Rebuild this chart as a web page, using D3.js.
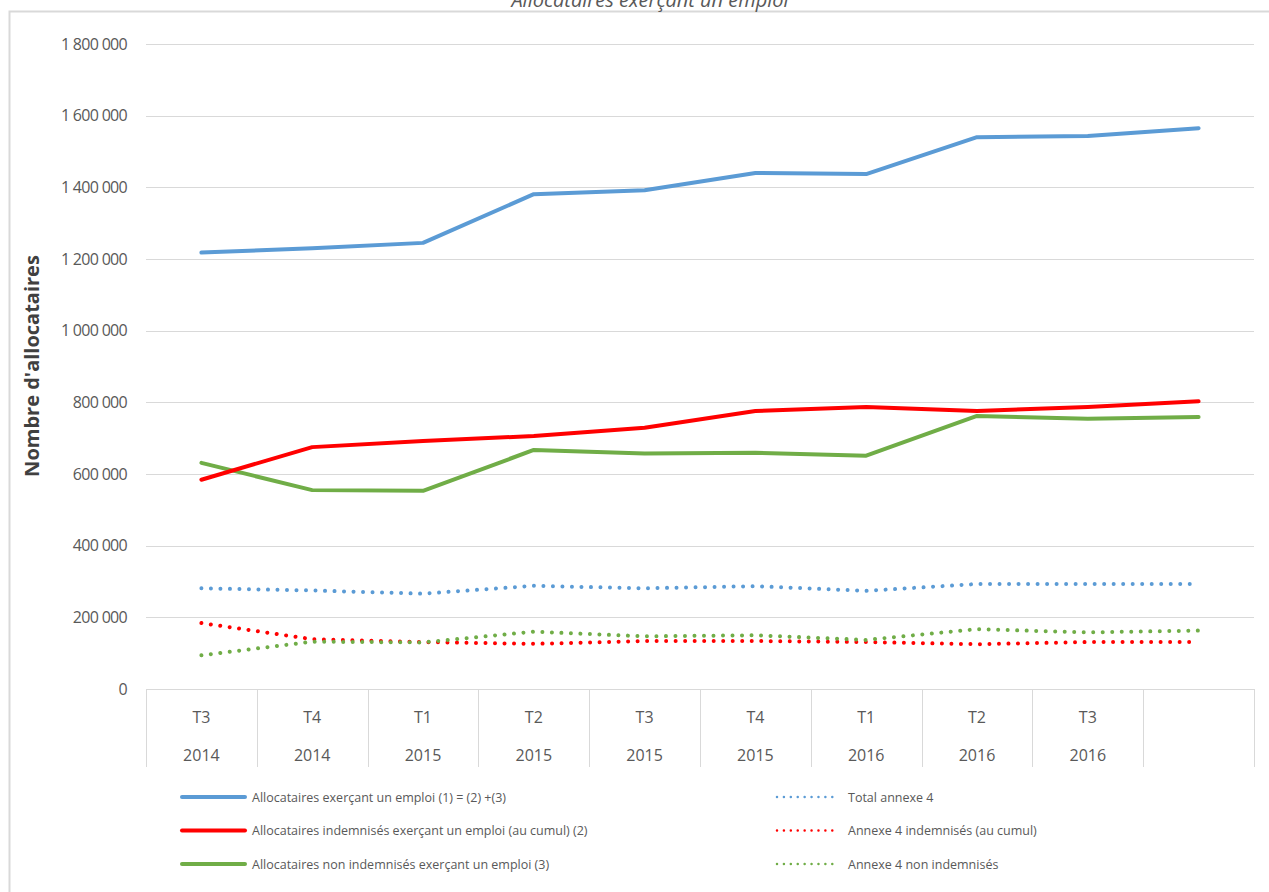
<!DOCTYPE html>
<html><head><meta charset="utf-8">
<script src="https://cdn.jsdelivr.net/npm/d3@7"></script>
<style>
html,body{margin:0;padding:0;background:#fff;}
svg{display:block;font-family:"Open Sans","Noto Sans",sans-serif;}
</style></head>
<body><svg id="c" width="1269" height="892"></svg>
<script>
const quarters = ["T3","T4","T1","T2","T3","T4","T1","T2","T3",""];
const years = ["2014","2014","2015","2015","2015","2015","2016","2016","2016",""];
const totalEmploi = [1218000,1230000,1245000,1381000,1392000,1440000,1437000,1540000,1543000,1565000];
const indemnEmploi = [584000,675000,692000,706000,729000,776000,787000,776000,787000,803000];
const nonIndemnEmploi = [631000,555000,553000,667000,657000,659000,651000,762000,754000,759000];
const totalAnnexe4 = [281000,275000,266000,288000,281000,287000,274000,293000,293000,293000];
const annexe4Indemn = [184000,139000,131000,126000,134000,134000,131000,125000,131000,131000];
const annexe4NonIndemn = [94000,132000,130000,160000,147000,150000,137000,167000,158000,163000];
const yTicks = [0,200000,400000,600000,800000,1000000,1200000,1400000,1600000,1800000];
const legendLabels = [
 "Allocataires exerçant un emploi (1) = (2) +(3)",
 "Allocataires indemnisés exerçant un emploi (au cumul) (2)",
 "Allocataires non indemnisés exerçant un emploi (3)",
 "Total annexe 4",
 "Annexe 4 indemnisés (au cumul)",
 "Annexe 4 non indemnisés"
];

const series = [
 {name:legendLabels[0], values:totalEmploi, color:"#5B9BD5", dotted:false},
 {name:legendLabels[1], values:indemnEmploi, color:"#FF0000", dotted:false},
 {name:legendLabels[2], values:nonIndemnEmploi, color:"#70AD47", dotted:false},
 {name:legendLabels[3], values:totalAnnexe4, color:"#5B9BD5", dotted:true},
 {name:legendLabels[4], values:annexe4Indemn, color:"#FF0000", dotted:true},
 {name:legendLabels[5], values:annexe4NonIndemn, color:"#70AD47", dotted:true}
];

const svg = d3.select("#c");
const L=146, R=1254, T=44, B=689;
const x = d3.scaleBand().domain(d3.range(quarters.length)).range([L,R]).padding(0);
const y = d3.scaleLinear().domain([0,1800000]).range([B,T]);
const fmt = v => d3.format(",")(v).replace(/,/g," ");

// chart border
svg.append("path").attr("d",`M9.5,892 L9.5,11.5 L1269,11.5`).attr("fill","none").attr("stroke","#d9d9d9").attr("stroke-width",2);

// title
svg.append("text").attr("x",650).attr("y",7).attr("text-anchor","middle")
 .attr("font-size",20).attr("font-style","italic").attr("fill","#595959").text("Allocataires exerçant un emploi");

// grid
svg.append("g").selectAll("line").data(yTicks.filter(d=>d>0)).join("line")
 .attr("x1",L).attr("x2",R).attr("y1",d=>Math.round(y(d))+0.5).attr("y2",d=>Math.round(y(d))+0.5)
 .attr("stroke","#d9d9d9").attr("stroke-width",1);

// y axis labels
const yAxis = d3.axisLeft(y).tickValues(yTicks).tickFormat(fmt).tickSize(0).tickPadding(0);
const gy = svg.append("g").attr("transform",`translate(${L-19},0)`).call(yAxis);
gy.select(".domain").remove();
gy.selectAll("text").attr("font-size",16).attr("fill","#595959").attr("font-family","'Open Sans',sans-serif").attr("letter-spacing",-0.7);

// y title
svg.append("text").attr("transform","translate(39,366) rotate(-90)").attr("text-anchor","middle")
 .attr("font-size",20).attr("font-weight","bold").attr("fill","#404040").text("Nombre d'allocataires");

// x axis table
const gx = svg.append("g");
gx.append("line").attr("x1",L).attr("x2",R).attr("y1",B+0.5).attr("y2",B+0.5).attr("stroke","#d9d9d9");
const bounds = d3.range(quarters.length).map(i=>x(i)).concat([R]);
gx.selectAll("line.v").data(bounds).join("line").attr("class","v")
 .attr("x1",d=>Math.round(d)+0.5).attr("x2",d=>Math.round(d)+0.5).attr("y1",B).attr("y2",767)
 .attr("stroke","#d9d9d9");
gx.selectAll("text.q").data(quarters).join("text").attr("class","q")
 .attr("x",(d,i)=>x(i)+x.bandwidth()/2).attr("y",723).attr("text-anchor","middle")
 .attr("font-size",16).attr("fill","#595959").text(d=>d);
gx.selectAll("text.yr").data(years).join("text").attr("class","yr")
 .attr("x",(d,i)=>x(i)+x.bandwidth()/2).attr("y",761).attr("text-anchor","middle")
 .attr("font-size",16).attr("fill","#595959").text(d=>d);

// lines
const line = d3.line().x((d,i)=>x(i)+x.bandwidth()/2).y(d=>y(d));
const order = [3,4,5,2,1,0];
order.forEach(k=>{
 const s = series[k];
 svg.append("path").datum(s.values).attr("d",line).attr("fill","none")
  .attr("stroke",s.color).attr("stroke-width",4)
  .attr("stroke-linecap","round").attr("stroke-linejoin","round")
  .attr("stroke-dasharray",s.dotted?"0.01 9.5":null);
});

// legend
const leg = svg.append("g");
series.forEach((s,i)=>{
 const col = i<3?0:1, row = i%3;
 const lx = col===0?182:777, ly = 797+row*33.5;
 const lw = col===0?63:62;
 leg.append("line").attr("x1",lx).attr("x2",lx+lw).attr("y1",ly).attr("y2",ly)
  .attr("stroke",s.color).attr("stroke-width",s.dotted?2.5:4)
  .attr("stroke-linecap","round").attr("stroke-dasharray",s.dotted?"0.01 6.9":null);
 leg.append("text").attr("x",col===0?252:848).attr("y",ly+4.5).attr("font-size",12.5)
  .attr("fill","#595959").attr("letter-spacing",0).text(s.name);
});
</script></body></html>
